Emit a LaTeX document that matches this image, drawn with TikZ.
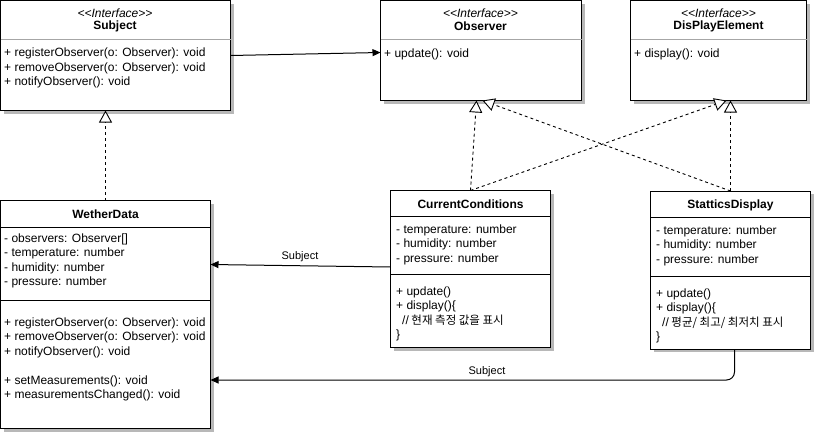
\documentclass[tikz,border=0pt]{standalone}
\usepackage{fontspec}
\setmainfont{Liberation Sans}
\newfontfamily\kr{Noto Sans CJK KR}
\usetikzlibrary{arrows.meta,shadows}
\begin{document}
\begin{tikzpicture}[x=1pt,y=-1pt,
 box/.style={draw=black, line width=1pt, fill=white, anchor=north west, inner sep=0pt, outer sep=0pt,
   drop shadow={shadow xshift=3pt, shadow yshift=-3pt, fill=black!28, opacity=1}},
 txt/.style={anchor=north west, inner sep=0pt, align=left, font=\fontsize{12}{14.4}\selectfont},
 ttl/.style={inner sep=0pt, font=\fontsize{12}{14}\selectfont\bfseries},
 ster/.style={inner sep=0pt, font=\fontsize{12}{14}\selectfont\itshape},
 sep/.style={line width=1pt},
 isep/.style={line width=1pt, draw=black!35},
 realize/.style={dash pattern=on 3pt off 3pt, line width=0.9pt,
   -{Triangle[open, length=12pt, width=13pt, line width=0.9pt, fill=white]}},
 assoc/.style={line width=1pt, -{Triangle[length=8pt, width=7pt]}},
 lbl/.style={font=\fontsize{11}{13}\selectfont, inner sep=0pt},
]
\useasboundingbox (0,0) rectangle (833,434);

% ---- Subject
\node[box, minimum width=230pt, minimum height=110pt] (subj) at (0.5,0.5) {};
\draw[isep] (subj.west |- 0,39) -- (subj.east |- 0,39);
\node[ster] (subjst) at (115,13) {<\kern0pt<Interface>\kern0pt>};
\node[ttl] (subjt) at (115,26.5) {Subject};
\node[txt] (subjops) at (4,48) {+ registerObserver(o: Observer): void\\+ removeObserver(o: Observer): void\\+ notifyObserver(): void};

% ---- Observer
\node[box, minimum width=201pt, minimum height=100pt] (obs) at (380.5,0.5) {};
\draw[isep] (obs.west |- 0,39) -- (obs.east |- 0,39);
\node[ster] (obsst) at (480.5,13) {<\kern0pt<Interface>\kern0pt>};
\node[ttl] (obst) at (480.5,26.5) {Observer};
\node[txt] (obsops) at (384,48.5) {+ update(): void};

% ---- DisPlayElement
\node[box, minimum width=176pt, minimum height=100pt] (dpe) at (630.5,0.5) {};
\draw[isep] (dpe.west |- 0,39) -- (dpe.east |- 0,39);
\node[ster] (dpest) at (718.5,13) {<\kern0pt<Interface>\kern0pt>};
\node[ttl] (dpet) at (718.5,26.5) {DisPlayElement};
\node[txt] (dpeops) at (634,48.5) {+ display(): void};

% ---- WetherData
\node[box, minimum width=210pt, minimum height=228pt] (wd) at (0.5,200.5) {};
\draw[sep] (wd.west |- 0,227) -- (wd.east |- 0,227);
\draw[sep] (wd.west |- 0,300) -- (wd.east |- 0,300);
\node[ttl] (wdt) at (105.5,214) {WetherData};
\node[txt] (wdattr) at (4,233.5) {- observers: Observer[]\\- temperature: number\\- humidity: number\\- pressure: number};
\node[txt] (wdops) at (4,317.5) {+ registerObserver(o: Observer): void\\+ removeObserver(o: Observer): void\\+ notifyObserver(): void\\[14.4pt]+ setMeasurements(): void\\+ measurementsChanged(): void};

% ---- CurrentConditions
\node[box, minimum width=160pt, minimum height=157pt] (cc) at (390.5,190.5) {};
\draw[sep] (cc.west |- 0,216) -- (cc.east |- 0,216);
\node[ttl] (cct) at (470.5,204) {CurrentConditions};
\node[txt] (ccattr) at (396,224.5) {- temperature: number\\- humidity: number\\- pressure: number};
\draw[sep] (cc.west |- 0,274) -- (cc.east |- 0,274);
\node[txt] (ccops) at (396,286.5) {+ update()\\+ display()\{\\\hspace*{6pt}//{\kr\fontsize{11.5}{14.4}\selectfont{} 현재 측정 값을 표시}\\\}};

% ---- StatticsDisplay
\node[box, minimum width=160pt, minimum height=158pt] (sd) at (650.5,191) {};
\draw[sep] (sd.west |- 0,217) -- (sd.east |- 0,217);
\node[ttl] (sdt) at (730.5,205) {StatticsDisplay};
\node[txt] (sdattr) at (656,225.5) {- temperature: number\\- humidity: number\\- pressure: number};
\draw[sep] (sd.west |- 0,276) -- (sd.east |- 0,276);
\node[txt] (sdops) at (656,288.5) {+ update()\\+ display()\{\\\hspace*{6pt}//{\kr\fontsize{11.5}{14.4}\selectfont{} 평균/ 최고/ 최저치 표시}\\\}};

% ---- connectors
\draw[assoc] (subj.east) -- ([yshift=-2pt]obs.west);
\draw[realize] (wd.north) -- (wd.north |- subj.south);
\draw[realize] (cc.north) -- ([xshift=-4.5pt]obs.south);
\draw[realize] (sd.north) -- ([xshift=1.5pt]obs.south);
\draw[realize] (cc.north) -- ([xshift=8pt]dpe.south);
\draw[realize] (sd.north) -- (sd.north |- dpe.south);
\draw[assoc] ([yshift=2pt]cc.west) -- ([yshift=50pt]wd.east);
\node[lbl] (l1) at (300,257) {Subject};
\draw[assoc, rounded corners=8pt] ([xshift=4pt]sd.south) |- ([yshift=-65.5pt]wd.east);
\node[lbl] (l2) at (487,372) {Subject};
\end{tikzpicture}
\end{document}
